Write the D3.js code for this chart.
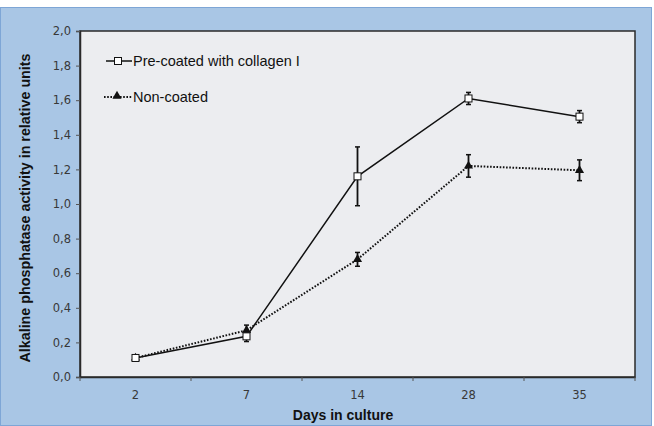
<!DOCTYPE html>
<html>
<head>
<meta charset="utf-8">
<script src="https://cdn.jsdelivr.net/npm/d3@7"></script>
<style>
  body { margin: 0; background: #fff; }
</style>
</head>
<body>
<div class="chart"></div>
<script>
// data
const days = ["2", "7", "14", "28", "35"];
const coated = [0.11, 0.235, 1.16, 1.61, 1.505];
const coatedErr = [0.01, 0.03, 0.17, 0.035, 0.035];
const nonCoated = [0.11, 0.27, 0.68, 1.22, 1.195];
const nonCoatedErr = [0.01, 0.03, 0.04, 0.065, 0.06];
const yTicks = [0, 0.2, 0.4, 0.6, 0.8, 1.0, 1.2, 1.4, 1.6, 1.8, 2.0];

const W = 654, H = 426;
const pLeft = 80, pRight = 635, pTop = 31, pBottom = 377;

var svg = d3.select(".chart").append("svg")
    .attr("width", W)
    .attr("height", H);

svg.append("rect") // outer blue frame
    .attr("x", 0.5).attr("y", 7.5)
    .attr("width", W - 3).attr("height", H - 8)
    .attr("fill", "#a9c6e5")
    .attr("stroke", "#7ea6d6");

var xScale = d3.scaleBand()
    .domain(days)
    .range([pLeft, pRight]);
var yScale = d3.scaleLinear()
    .domain([0, 2])
    .range([pBottom, pTop]);

svg.append("rect") // plot area
    .attr("x", pLeft).attr("y", pTop)
    .attr("width", pRight - pLeft).attr("height", pBottom - pTop)
    .attr("fill", "#ecedf0")
    .attr("stroke", "#2a2a2a")
    .attr("stroke-width", 1.5);

var fmt = d3.format(".1f");
var yAxis = d3.axisLeft(yScale)
    .tickValues(yTicks)
    .tickSize(4)
    .tickPadding(5)
    .tickFormat(d => fmt(d).replace(".", ","));
var gy = svg.append("g")
    .attr("transform", `translate(${pLeft},0)`)
    .call(yAxis);
gy.select(".domain").attr("stroke", "#2a2a2a").attr("stroke-width", 1.5);
gy.selectAll(".tick line").attr("stroke", "#555");
gy.selectAll("text")
    .attr("font-family", "DejaVu Sans")
    .attr("font-size", 11.5)
    .attr("fill", "#383838");

// x axis: ticks sit between categories
var xAxis = d3.axisBottom(xScale).tickSize(0).tickPadding(14);
var gx = svg.append("g")
    .attr("transform", `translate(0,${pBottom})`)
    .call(xAxis);
gx.select(".domain").attr("stroke", "#2a2a2a").attr("stroke-width", 1.5);
gx.selectAll("text")
    .attr("font-family", "DejaVu Sans")
    .attr("font-size", 11.5)
    .attr("fill", "#383838");
gx.selectAll(".sep")
    .data(d3.range(days.length + 1))
    .enter()
    .append("line")
    .attr("class", "sep")
    .attr("x1", i => pLeft + i * xScale.step())
    .attr("x2", i => pLeft + i * xScale.step())
    .attr("y1", 0).attr("y2", 4)
    .attr("stroke", "#555");

var cx = d => xScale(d) + xScale.bandwidth() / 2;

function drawSeries(vals, errs, dashed, marker) {
    var line = d3.line()
        .x((d, i) => cx(days[i]))
        .y(d => yScale(d));
    svg.append("path")
        .datum(vals)
        .attr("d", line)
        .attr("fill", "none")
        .attr("stroke", "#111")
        .attr("stroke-width", dashed ? 2 : 1.5)
        .attr("stroke-dasharray", dashed ? "1.6,1.6" : null);

    var g = svg.append("g");
    vals.forEach(function(v, i) {
        var x = cx(days[i]);
        var y1 = yScale(v + errs[i]), y2 = yScale(v - errs[i]);
        g.append("line").attr("x1", x).attr("x2", x).attr("y1", y1).attr("y2", y2)
            .attr("stroke", "#111").attr("stroke-width", 1.8);
        [y1, y2].forEach(function(y) {
            g.append("line").attr("x1", x - 2.5).attr("x2", x + 2.5).attr("y1", y).attr("y2", y)
                .attr("stroke", "#111").attr("stroke-width", 1.5);
        });
    });
    vals.forEach(function(v, i) {
        marker(g, cx(days[i]), yScale(v));
    });
}

function square(g, x, y) {
    g.append("rect")
        .attr("x", x - 3.5).attr("y", y - 3.5)
        .attr("width", 7).attr("height", 7)
        .attr("fill", "#fff").attr("stroke", "#111").attr("stroke-width", 1);
}
function triangle(g, x, y) {
    g.append("path")
        .attr("d", d3.symbol().type(d3.symbolTriangle).size(36)())
        .attr("transform", `translate(${x},${y})`)
        .attr("fill", "#111");
}

drawSeries(nonCoated, nonCoatedErr, true, triangle);
drawSeries(coated, coatedErr, false, square);

// legend
var lg = svg.append("g");
lg.append("line").attr("x1", 106).attr("x2", 132).attr("y1", 61).attr("y2", 61)
    .attr("stroke", "#111").attr("stroke-width", 1.5);
square(lg, 118, 61);
lg.append("text").attr("x", 133).attr("y", 66)
    .attr("font-family", "Liberation Sans").attr("font-size", 14.5).attr("fill", "#111")
    .text("Pre-coated with collagen I");
lg.append("line").attr("x1", 104).attr("x2", 132).attr("y1", 97).attr("y2", 97)
    .attr("stroke", "#111").attr("stroke-width", 2).attr("stroke-dasharray", "1.6,1.6");
triangle(lg, 117, 96);
lg.append("text").attr("x", 133).attr("y", 102)
    .attr("font-family", "Liberation Sans").attr("font-size", 14.5).attr("fill", "#111")
    .text("Non-coated");

// axis titles
svg.append("text")
    .attr("transform", `translate(30,208) rotate(-90)`)
    .attr("text-anchor", "middle")
    .attr("font-family", "Liberation Sans").attr("font-weight", "bold").attr("font-size", 14.3)
    .attr("fill", "#111")
    .text("Alkaline phosphatase activity in relative units");
svg.append("text")
    .attr("x", 343).attr("y", 420)
    .attr("text-anchor", "middle")
    .attr("font-family", "Liberation Sans").attr("font-weight", "bold").attr("font-size", 14)
    .attr("fill", "#111")
    .text("Days in culture");
</script>
</body>
</html>
